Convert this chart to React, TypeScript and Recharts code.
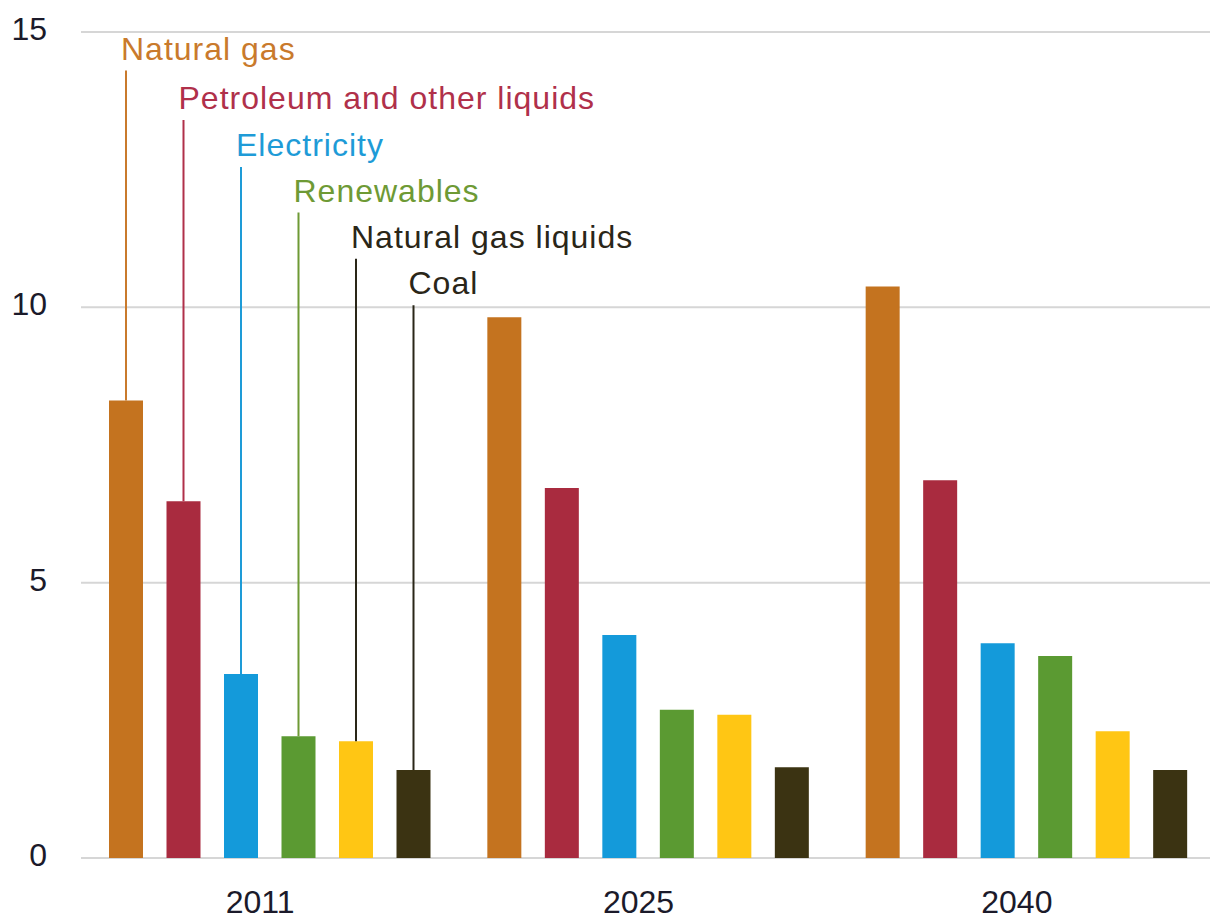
import React from 'react';
import { BarChart, Bar, XAxis, YAxis, CartesianGrid, LabelList } from 'recharts';

// --- DATA ---
const years = ['2011', '2025', '2040'];
const naturalGas = [8.31, 9.82, 10.38];
const petroleum = [6.48, 6.72, 6.86];
const electricity = [3.34, 4.05, 3.9];
const renewables = [2.21, 2.69, 3.67];
const naturalGasLiquids = [2.12, 2.6, 2.3];
const coal = [1.6, 1.65, 1.6];
const yTicks = [0, 5, 10, 15];

const FONT = '"Liberation Sans", Arial, sans-serif';

// series styling; `level` is where the 2011 callout label sits (in axis units)
const series = [
  { key: 'naturalGas', name: 'Natural gas', fill: '#C4731F', text: '#C97A2C', level: 14.3 },
  { key: 'petroleum', name: 'Petroleum and other liquids', fill: '#A92B3F', text: '#B0304A', level: 13.4 },
  { key: 'electricity', name: 'Electricity', fill: '#149ADA', text: '#1E9BD7', level: 12.55 },
  { key: 'renewables', name: 'Renewables', fill: '#5B9A32', text: '#6E9A35', level: 11.72 },
  { key: 'naturalGasLiquids', name: 'Natural gas liquids', fill: '#FFC614', text: '#2A2618', level: 10.88 },
  { key: 'coal', name: 'Coal', fill: '#3B3312', text: '#2A2618', level: 10.04 },
];

const values: Record<string, number[]> = {
  naturalGas, petroleum, electricity, renewables, naturalGasLiquids, coal,
};

const chartData = years.map((year, i) => {
  const row: { [key: string]: any } = { year };
  series.forEach(s => { row[s.key] = values[s.key][i]; });
  return row;
});

const YTick = (props: any) => (
  <text x={47} y={props.y} dy={8} textAnchor="end" fontSize={32} fontFamily={FONT} fill="#1b1a2a">
    {props.payload.value}
  </text>
);

const XTick = (props: any) => (
  <text x={props.x - 10} y={props.y} dy={53} textAnchor="middle" fontSize={32} fontFamily={FONT} fill="#1b1a2a">
    {props.payload.value}
  </text>
);

// callout for the first category: a leader line from the bar top up to the series name
const makeCallout = (s: typeof series[number]) => (props: any) => {
  const { x, y, width, height, value, index } = props;
  if (index !== 0 || !value) return null;
  const base = y + height;
  const pxPerUnit = height / value;
  const top = base - s.level * pxPerUnit;
  const cx = x + width / 2;
  return (
    <g>
      <line x1={cx} x2={cx} y1={top} y2={y} stroke={s.text} strokeWidth={2} />
      <text x={cx - 5} y={top - 11} fontSize={32} letterSpacing={1} fontFamily={FONT} fill={s.text}>
        {s.name}
      </text>
    </g>
  );
};

const App: React.FC = () => {
  return (
    <div style={{ position: 'absolute', left: 0, top: 0, width: 1210, height: 920, overflow: 'hidden', background: '#fff' }}>
      <BarChart
        width={1216}
        height={920}
        data={chartData}
        margin={{ top: 32, right: 0, left: 0, bottom: 0 }}
        barSize={34}
        barGap={23.5}
      >
        <CartesianGrid horizontal vertical={false} stroke="#d6d6d6" strokeWidth={2} />
        <XAxis
          dataKey="year"
          height={62}
          axisLine={false}
          tickLine={false}
          tickSize={0}
          tick={<XTick />}
        />
        <YAxis
          width={81}
          domain={[0, 15]}
          ticks={yTicks}
          axisLine={false}
          tickLine={false}
          tickSize={0}
          tick={<YTick />}
        />
        {series.map(s => (
          <Bar key={s.key} dataKey={s.key} name={s.name} fill={s.fill} isAnimationActive={false}>
            <LabelList dataKey={s.key} content={makeCallout(s)} />
          </Bar>
        ))}
      </BarChart>
    </div>
  );
};

export default App;
